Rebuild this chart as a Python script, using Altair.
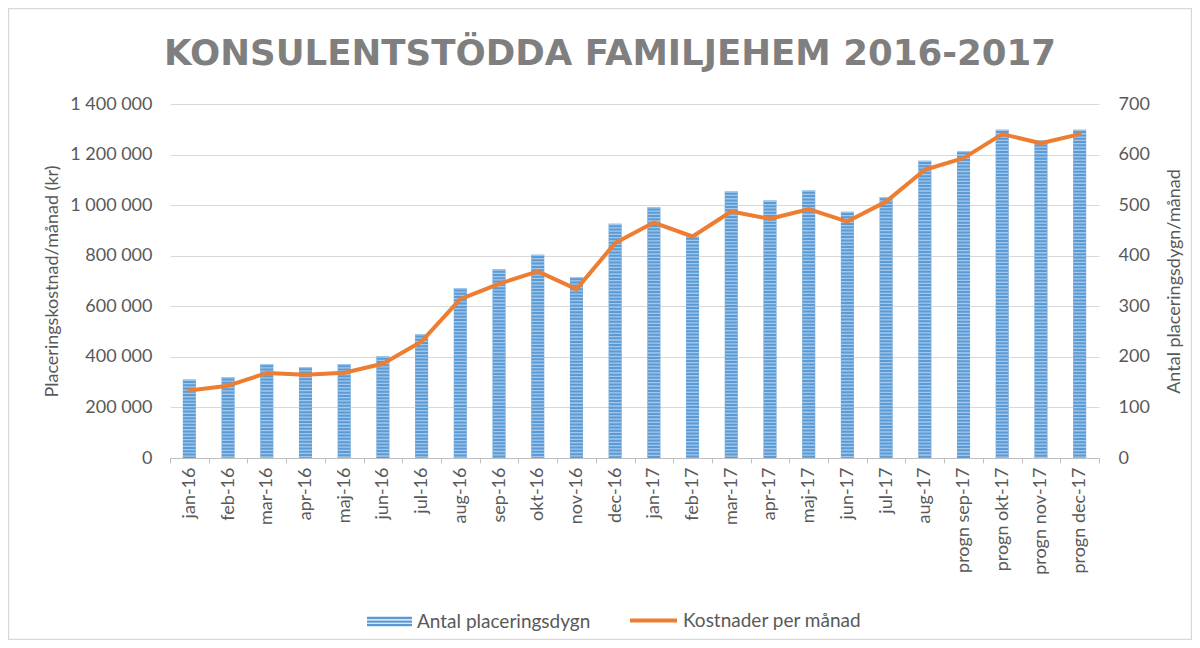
import altair as alt
import pandas as pd

months = ["jan-16", "feb-16", "mar-16", "apr-16", "maj-16", "jun-16", "jul-16", "aug-16",
          "sep-16", "okt-16", "nov-16", "dec-16", "jan-17", "feb-17", "mar-17", "apr-17",
          "maj-17", "jun-17", "jul-17", "aug-17", "progn sep-17", "progn okt-17",
          "progn nov-17", "progn dec-17"]
days = [155, 160, 186, 180, 186, 201, 245, 336, 373, 402, 358, 463,
        496, 438, 527, 509, 529, 487, 516, 588, 607, 649, 629, 649]
cost = [267000, 286000, 336000, 329000, 337000, 373000, 461000, 628000, 689000, 738000,
        668000, 850000, 931000, 876000, 975000, 946000, 984000, 935000, 1014000, 1140000,
        1186000, 1281000, 1245000, 1281000]
left_ticks = [0, 200000, 400000, 600000, 800000, 1000000, 1200000, 1400000]
right_ticks = [0, 100, 200, 300, 400, 500, 600, 700]
title_text = "KONSULENTSTÖDDA FAMILJEHEM 2016-2017"
bar_name = "Antal placeringsdygn"
line_name = "Kostnader per månad"

df = pd.DataFrame({"month": months, "days": days, "cost": cost,
                   "sb": [bar_name] * len(months), "sl": [line_name] * len(months)})

FONT = "Lato"
GREY = "#595959"

base = alt.Chart(df).encode(
    x=alt.X("month:N", sort=months,
            scale=alt.Scale(paddingInner=0, paddingOuter=0),
            axis=alt.Axis(title=None, labelAngle=-90, labelAlign="right", labelBaseline="middle",
                          tickBand="extent", domainColor="#bfbfbf", tickColor="#bfbfbf",
                          tickSize=5, labelPadding=4, labelFont=FONT, labelFontSize=18,
                          labelColor=GREY, grid=False, labelOverlap=False))
)

right_axis = alt.Axis(orient="right", values=right_ticks, grid=False, domain=False,
                      ticks=False, labelPadding=19, labelFont=FONT, labelFontSize=18,
                      labelColor=GREY, labelAlign="left",
                      title="Antal placeringsdygn/månad", titleFont=FONT,
                      titleFontSize=18, titleFontWeight="normal", titleColor=GREY,
                      titleAngle=-90, titleX=75, titleY=177, titleAlign="center",
                      titleBaseline="middle")
right_scale = alt.Scale(domain=[0, 700], nice=False)

bars = base.mark_bar(size=13).encode(
    y=alt.Y("days:Q", scale=right_scale, axis=right_axis),
    fill=alt.Fill("sb:N",
                  scale=alt.Scale(domain=[bar_name], range=["#5b9bd5"]),
                  legend=alt.Legend(title=None, orient="none", legendX=197, legendY=495,
                                    symbolType="M-1,-0.21H1V-0.1H-1Z M-1,-0.05H1V0.05H-1Z M-1,0.1H1V0.21H-1Z",
                                    symbolSize=2025, symbolStrokeWidth=0,
                                    labelFont=FONT, labelFontSize=19, labelColor=GREY,
                                    labelOffset=5, padding=0, labelLimit=0)),
)

stripes = base.mark_rule(strokeWidth=13, stroke="#a3c7ec", strokeDash=[1.3, 2.0],
                         strokeCap="butt").encode(
    y=alt.Y("days:Q", scale=right_scale, axis=right_axis),
    y2=alt.datum(0),
)

line = base.mark_line(strokeWidth=4, strokeCap="round", strokeJoin="round").encode(
    y=alt.Y("cost:Q", scale=alt.Scale(domain=[0, 1400000], nice=False),
            axis=alt.Axis(orient="left", values=left_ticks,
                          labelExpr="replace(format(datum.value, ','), regexp(',', 'g'), ' ')",
                          grid=True, gridColor="#d9d9d9", gridWidth=1, domain=False,
                          ticks=False, labelPadding=18, labelFont=FONT, labelFontSize=18,
                          labelColor=GREY,
                          title="Placeringskostnad/månad (kr)", titleFont=FONT,
                          titleFontSize=18, titleFontWeight="normal", titleColor=GREY,
                          titleAngle=-90, titleX=-118, titleY=177, titleAlign="center",
                          titleBaseline="middle")),
    stroke=alt.Stroke("sl:N",
                      scale=alt.Scale(domain=[line_name], range=["#ed7d31"]),
                      legend=alt.Legend(title=None, orient="none", legendX=458, legendY=491,
                                        symbolType="stroke", symbolSize=2209,
                                        symbolStrokeWidth=4,
                                        labelFont=FONT, labelFontSize=19, labelColor=GREY,
                                        labelOffset=4, padding=0, labelLimit=0)),
)

frame_df = pd.DataFrame({"t": [title_text]})
border = alt.Chart(frame_df).mark_rect(fill="transparent", stroke="#d9d9d9", strokeWidth=1.5,
                                       clip=False).encode(
    x=alt.value(-161.5), x2=alt.value(1021.5), y=alt.value(-95.5), y2=alt.value(535.5)
)
title = alt.Chart(frame_df).mark_text(font="DejaVu Sans", fontWeight="bold", fontSize=35.6,
                                      color="#7f7f7f", align="center",
                                      baseline="alphabetic").encode(
    text="t:N", x=alt.value(440), y=alt.value(-39)
)

chart = alt.layer(
    alt.layer(bars, stripes), line, border, title
).resolve_scale(
    y="independent", fill="independent", stroke="independent"
).properties(
    width=929, height=354,
    autosize=alt.AutoSizeParams(type="none"),
    padding={"left": 162, "right": 93, "top": 96, "bottom": 182},
    background="white",
).configure_view(stroke=None)

chart.save("out.html", embed_options={"renderer": "svg", "actions": False})
